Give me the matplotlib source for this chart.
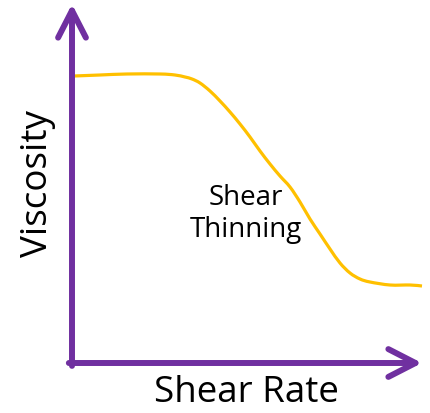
import matplotlib.pyplot as plt
import numpy as np
from matplotlib.path import Path
from matplotlib.patches import PathPatch

# shear rate (arbitrary units) and viscosity (arbitrary units)
shear_rate = [2, 28, 55, 88, 103, 113, 120, 128, 138, 148, 158, 168, 178, 188, 198,
              208, 218, 228, 238, 248, 258, 268, 278, 288, 298, 318, 338, 350]
viscosity = [287, 288, 289, 289, 288, 286, 284, 280, 272, 262, 251, 239, 226, 212, 199,
             187, 176, 161, 144, 129, 114, 100, 90, 84, 81, 78, 78, 77]

x_label = 'Shear Rate'
y_label = 'Viscosity'
note = 'Shear\nThinning'

PURPLE = '#7030A0'
YELLOW = '#FFC000'
W, H = 431, 414

plt.rcParams['font.family'] = ['Open Sans', 'DejaVu Sans']


def smooth_path(xs, ys):
    # catmull-rom through the points, drawn as cubic bezier segments
    p = np.column_stack([xs, ys]).astype(float)
    verts = [p[0]]
    codes = [Path.MOVETO]
    for i in range(len(p) - 1):
        p0 = p[i - 1] if i > 0 else p[i]
        p3 = p[i + 2] if i + 2 < len(p) else p[i + 1]
        c1 = p[i] + (p[i + 1] - p0) / 6
        c2 = p[i + 1] - (p3 - p[i]) / 6
        verts += [c1, c2, p[i + 1]]
        codes += [Path.CURVE4] * 3
    return Path(verts, codes)


fig = plt.figure(figsize=(W / 100, H / 100), dpi=100)
# axes box: origin at pixel (72, 364), top at y=5, right at x=422
ax = fig.add_axes([72 / W, (H - 364) / H, 350 / W, 359 / H])
ax.set_xlim(0, 350)
ax.set_ylim(0, 359)
ax.axis('off')

ax.add_patch(PathPatch(smooth_path(shear_rate, viscosity), fill=False, edgecolor=YELLOW,
                       lw=2.3, capstyle='butt', clip_on=False))

arrow = dict(arrowstyle='->,head_length=1.95,head_width=1.0', color=PURPLE, lw=4.3,
             capstyle='round', joinstyle='round', shrinkA=0, shrinkB=0)
ax.annotate('', xy=(1.0, 0), xytext=(-0.009, 0), xycoords='axes fraction', arrowprops=arrow)
ax.annotate('', xy=(0, 1.0), xytext=(0, -0.008), xycoords='axes fraction', arrowprops=arrow)

fig.text(246.5 / W, 1 - 402 / H, x_label, ha='center', va='baseline', fontsize=26.5)
fig.text(38.5 / W, 1 - 183.5 / H, y_label, ha='center', va='center', rotation=90, fontsize=26.5)
fig.text(246 / W, 1 - 214 / H, note, ha='center', va='center', fontsize=20,
         multialignment='center', linespacing=1.15)

fig.savefig('out.png', dpi=100)
